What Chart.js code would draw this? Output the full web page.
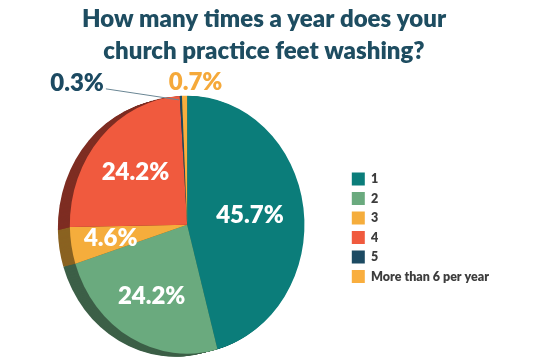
<!DOCTYPE html>
<html>
<head>
<meta charset="utf-8">
<script src="https://cdn.jsdelivr.net/npm/chart.js@4.4.1/dist/chart.umd.min.js"></script>
<style>
  html, body { margin: 0; padding: 0; background: #fff; }
  #wrap { width: 550px; height: 364px; }
</style>
</head>
<body>
<div id="wrap"><canvas id="chPie"></canvas></div>
<script>
var categories = ['1', '2', '3', '4', '5', 'More than 6 per year'];
var percents = [45.7, 24.2, 4.6, 24.2, 0.3, 0.7];
var valueLabels = ['45.7%', '24.2%', '4.6%', '24.2%', '0.3%', '0.7%'];

var colors = ['#0b7d7a', '#6aaa7e', '#f5ad3c', '#f05a3e', '#1c4a62', '#f9ae3e'];
var shadeColors = ['#06504e', '#3c5f47', '#8a6220', '#7e2d22', '#10293a', '#8a6220'];
var titleColor = '#1e4d61';
var fontFamily = 'Lato';
var yStretch = 1.1;      // pie is a bit taller than wide
var depth = [-12, 3];    // 3d side offset
var labelRadius = [0.54, 0.63, 0.66, 0.6];

// labels that sit outside the pie (small slices)
var outside = {
  4: { dx: -77, dy: -13, align: 'right', color: '#1c4a62', line: true },
  5: { dx: 11, dy: -13, align: 'center', color: '#f5a93a' }
};

var pieShape = {
  id: 'pieShape',
  beforeDatasetsDraw: function(chart) {
    var ctx = chart.ctx;
    var arcs = chart.getDatasetMeta(0).data;
    var cx = arcs[0].x, cy = arcs[0].y;
    ctx.save();
    ctx.translate(cx, cy);
    ctx.scale(1, yStretch);
    ctx.translate(-cx, -cy);
    var steps = 12;
    for (var s = steps; s >= 1; s--) {
      var dx = depth[0] * s / steps;
      var dy = depth[1] * s / steps / yStretch;
      arcs.forEach(function(a, i) {
        ctx.beginPath();
        ctx.moveTo(a.x + dx, a.y + dy);
        ctx.arc(a.x + dx, a.y + dy, a.outerRadius, a.startAngle, a.endAngle);
        ctx.closePath();
        ctx.fillStyle = shadeColors[i];
        ctx.fill();
      });
    }
  },
  afterDatasetsDraw: function(chart) {
    var ctx = chart.ctx;
    ctx.restore();
    var arcs = chart.getDatasetMeta(0).data;
    ctx.save();
    ctx.font = '800 24px ' + fontFamily;
    ctx.textBaseline = 'middle';
    arcs.forEach(function(a, i) {
      var mid = (a.startAngle + a.endAngle) / 2;
      var o = outside[i];
      if (o) {
        var px = a.x + Math.cos(mid) * a.outerRadius;
        var py = a.y + Math.sin(mid) * a.outerRadius * yStretch;
        if (o.line) {
          ctx.strokeStyle = '#6a8694';
          ctx.lineWidth = 1;
          ctx.beginPath();
          ctx.moveTo(px + o.dx + 2, py + o.dy + 6);
          ctx.lineTo(px - 2, py + 4);
          ctx.stroke();
        }
        ctx.fillStyle = o.color;
        ctx.textAlign = o.align;
        ctx.fillText(valueLabels[i], px + o.dx, py + o.dy);
      } else {
        var r = a.outerRadius * labelRadius[i];
        ctx.fillStyle = '#ffffff';
        ctx.textAlign = 'center';
        ctx.fillText(valueLabels[i], a.x + Math.cos(mid) * r, a.y + Math.sin(mid) * r * yStretch);
      }
    });
    ctx.restore();
  }
};

var chPie = document.getElementById('chPie');
if (chPie) {
  new Chart(chPie, {
    type: 'pie',
    data: {
      labels: categories,
      datasets: [{
        data: percents,
        backgroundColor: colors,
        borderWidth: 0,
        clip: false
      }]
    },
    options: {
      responsive: true,
      maintainAspectRatio: false,
      animation: false,
      layout: { padding: { left: 29, right: 51, top: 0, bottom: 22 } },
      plugins: {
        title: {
          display: true,
          text: ['How many times a year does your', 'church practice feet washing?'],
          color: titleColor,
          font: { family: fontFamily, size: 24, weight: '800', lineHeight: 1.3 },
          padding: { top: 4, bottom: 41 }
        },
        legend: {
          position: 'right',
          align: 'center',
          title: {
            display: true,
            text: '',
            font: { size: 10, lineHeight: 1.2 },
            padding: { top: 101.5, bottom: 0 }
          },
          labels: {
            boxWidth: 13,
            boxHeight: 13,
            padding: 6.5,
            color: '#3d3d3d',
            font: { family: fontFamily, size: 12.5, weight: '800' }
          }
        },
        tooltip: { enabled: false }
      }
    },
    plugins: [pieShape]
  });
}
</script>
</body>
</html>
